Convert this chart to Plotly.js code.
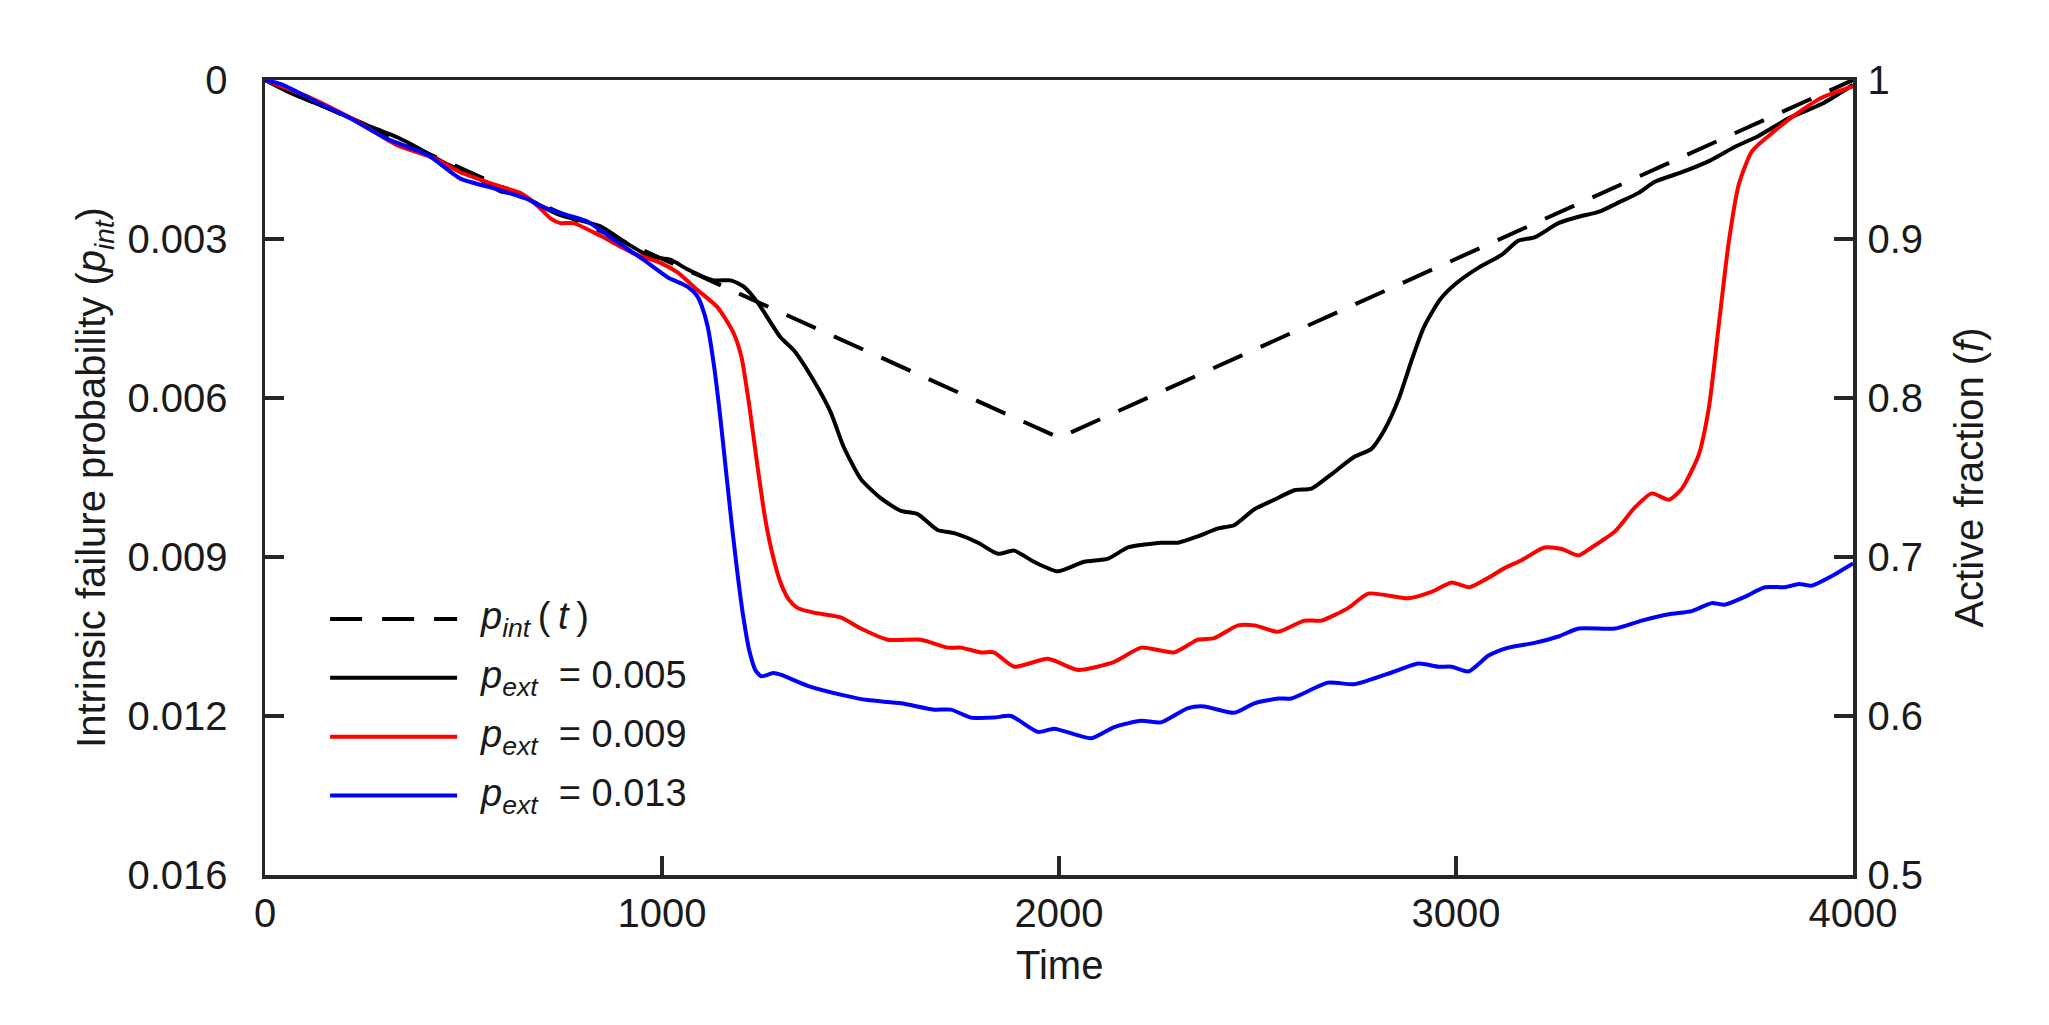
<!DOCTYPE html>
<html>
<head>
<meta charset="utf-8">
<script src="https://cdn.plot.ly/plotly-3.0.1.min.js"></script>
<style>
  html, body { margin: 0; padding: 0; background: #ffffff; }
  #chart { width: 2049px; height: 1025px; }
</style>
</head>
<body>
<div id="chart"></div>
<script>
// ---- Data ----
// Intrinsic failure probability p_int(t) (left axis)
const tInt = [0, 2000, 4000];
const pInt = [0, 0.00675, 0];

// Active fraction f (right axis), p_ext = 0.005
const tBlack = [0, 63, 121, 182, 272, 333, 373, 459, 525, 593, 643, 694, 744, 845, 913, 971, 1021, 1064, 1130, 1173, 1206, 1241, 1299, 1332, 1382, 1425, 1458, 1501, 1551, 1602, 1644, 1694, 1736, 1796, 1846, 1887, 1937, 1997, 2063, 2124, 2174, 2257, 2300, 2350, 2401, 2441, 2492, 2542, 2593, 2636, 2686, 2744, 2787, 2820, 2855, 2890, 2920, 2960, 3000, 3057, 3115, 3157, 3198, 3258, 3309, 3359, 3410, 3460, 3501, 3569, 3637, 3703, 3763, 3839, 3922, 4000];
const fBlack = [1, 0.992, 0.986, 0.980, 0.970, 0.964, 0.959, 0.947, 0.940, 0.930, 0.928, 0.921, 0.915, 0.908, 0.897, 0.889, 0.887, 0.881, 0.874, 0.874, 0.870, 0.860, 0.838, 0.830, 0.811, 0.791, 0.769, 0.749, 0.737, 0.729, 0.727, 0.717, 0.715, 0.709, 0.702, 0.704, 0.697, 0.691, 0.697, 0.699, 0.706, 0.709, 0.709, 0.713, 0.718, 0.720, 0.730, 0.736, 0.742, 0.743, 0.752, 0.763, 0.768, 0.780, 0.799, 0.825, 0.845, 0.862, 0.872, 0.882, 0.890, 0.899, 0.901, 0.910, 0.914, 0.917, 0.923, 0.929, 0.936, 0.942, 0.949, 0.958, 0.965, 0.976, 0.985, 0.997];

// p_ext = 0.009
const tRed = [0, 113, 232, 333, 424, 492, 593, 643, 686, 719, 744, 777, 845, 928, 996, 1039, 1089, 1140, 1180, 1200, 1220, 1240, 1260, 1280, 1300, 1320, 1341, 1382, 1450, 1501, 1568, 1652, 1720, 1753, 1803, 1836, 1887, 1972, 2048, 2139, 2207, 2290, 2350, 2391, 2451, 2492, 2552, 2618, 2661, 2729, 2779, 2880, 2938, 2989, 3034, 3082, 3122, 3165, 3223, 3266, 3309, 3342, 3400, 3450, 3493, 3536, 3569, 3611, 3637, 3662, 3687, 3712, 3745, 3788, 3854, 3922, 4000];
const fRed = [1, 0.989, 0.974, 0.959, 0.951, 0.942, 0.933, 0.929, 0.921, 0.913, 0.910, 0.910, 0.902, 0.891, 0.885, 0.879, 0.868, 0.857, 0.841, 0.826, 0.795, 0.758, 0.724, 0.700, 0.683, 0.673, 0.668, 0.665, 0.662, 0.655, 0.648, 0.648, 0.643, 0.643, 0.640, 0.640, 0.631, 0.636, 0.629, 0.634, 0.643, 0.640, 0.648, 0.649, 0.657, 0.657, 0.653, 0.660, 0.660, 0.668, 0.677, 0.674, 0.678, 0.684, 0.681, 0.687, 0.693, 0.698, 0.706, 0.705, 0.701, 0.706, 0.716, 0.731, 0.740, 0.736, 0.743, 0.764, 0.794, 0.846, 0.898, 0.934, 0.955, 0.965, 0.978, 0.989, 0.996];

// p_ext = 0.013
const tBlue = [0, 45, 131, 214, 308, 409, 492, 575, 661, 701, 761, 812, 888, 953, 1014, 1064, 1089, 1100, 1115, 1130, 1145, 1160, 1175, 1190, 1205, 1220, 1235, 1250, 1280, 1299, 1367, 1458, 1518, 1602, 1685, 1728, 1778, 1836, 1879, 1947, 1988, 2081, 2139, 2207, 2257, 2325, 2366, 2441, 2492, 2552, 2585, 2678, 2744, 2845, 2905, 2956, 2989, 3031, 3082, 3132, 3198, 3258, 3309, 3400, 3468, 3536, 3594, 3644, 3677, 3728, 3778, 3829, 3864, 3896, 3939, 4000];
const fBlue = [1, 0.997, 0.986, 0.976, 0.963, 0.953, 0.938, 0.932, 0.925, 0.920, 0.915, 0.911, 0.898, 0.887, 0.876, 0.870, 0.864, 0.858, 0.845, 0.822, 0.792, 0.757, 0.722, 0.690, 0.662, 0.641, 0.629, 0.625, 0.627, 0.626, 0.619, 0.613, 0.610, 0.608, 0.604, 0.604, 0.599, 0.599, 0.600, 0.590, 0.592, 0.586, 0.593, 0.597, 0.596, 0.605, 0.606, 0.602, 0.608, 0.611, 0.611, 0.621, 0.620, 0.628, 0.633, 0.631, 0.631, 0.628, 0.638, 0.643, 0.646, 0.650, 0.655, 0.655, 0.660, 0.664, 0.666, 0.671, 0.670, 0.675, 0.681, 0.681, 0.683, 0.682, 0.687, 0.696];

// Ticks
const xTickVals = [0, 1000, 2000, 3000, 4000];
const xTickText = ['0', '1000', '2000', '3000', '4000'];
const leftTickVals = [0, 0.003, 0.006, 0.009, 0.012, 0.015];
const leftTickText = ['0', '0.003', '0.006', '0.009', '0.012', '0.016'];
const rightTickVals = [0.5, 0.6, 0.7, 0.8, 0.9, 1];
const rightTickText = ['0.5', '0.6', '0.7', '0.8', '0.9', '1'];

// Legend entries
const legendLabels = [
  '<i>p</i><sub><i>int</i></sub>\u2009(\u2009<i>t</i>\u2009)',
  '<i>p</i><sub><i>ext</i></sub>  = 0.005',
  '<i>p</i><sub><i>ext</i></sub>  = 0.009',
  '<i>p</i><sub><i>ext</i></sub>  = 0.013'
];
const seriesColors = ['#000000', '#000000', '#ff0000', '#0000ff'];
const seriesDash = ['32px,20px', 'solid', 'solid', 'solid'];

// ---- Figure ----
const FONT = 'Liberation Sans, Arial, Helvetica, sans-serif';
const AX = '#262626';
const TXT = '#1a1a1a';
const LW = 4;

const traces = [
  { x: tInt, y: pInt, yaxis: 'y', mode: 'lines', name: 'p_int(t)',
    line: { color: seriesColors[0], width: LW, dash: seriesDash[0] }, hoverinfo: 'skip' },
  { x: tBlack, y: fBlack, yaxis: 'y2', mode: 'lines', name: 'p_ext = 0.005',
    line: { color: seriesColors[1], width: LW, shape: 'spline', smoothing: 0.6 } },
  { x: tRed, y: fRed, yaxis: 'y2', mode: 'lines', name: 'p_ext = 0.009',
    line: { color: seriesColors[2], width: LW, shape: 'spline', smoothing: 0.6 } },
  { x: tBlue, y: fBlue, yaxis: 'y2', mode: 'lines', name: 'p_ext = 0.013',
    line: { color: seriesColors[3], width: LW, shape: 'spline', smoothing: 0.6 } }
];

// custom legend (long sample lines as in the reference)
const legX0 = 0.041, legX1 = 0.121, legTextX = 0.134;
const legRows = [0.322, 0.248, 0.174, 0.100];
const shapes = [];
const annotations = [];
legRows.forEach((yy, i) => {
  shapes.push({ type: 'line', xref: 'paper', yref: 'paper', x0: legX0, x1: legX1, y0: yy, y1: yy,
    line: { color: seriesColors[i], width: LW, dash: seriesDash[i] } });
  annotations.push({ xref: 'paper', yref: 'paper', x: legTextX, y: yy, xanchor: 'left', yanchor: 'middle',
    text: legendLabels[i], showarrow: false, font: { family: FONT, size: 38, color: TXT } });
});
// x-axis title placed as text just below the tick labels
annotations.push({ xref: 'paper', yref: 'paper', x: 0.5, y: -0.113, xanchor: 'center', yanchor: 'middle',
  text: 'Time', showarrow: false, font: { family: FONT, size: 40, color: TXT } });

const layout = {
  width: 2049, height: 1025,
  paper_bgcolor: '#ffffff', plot_bgcolor: '#ffffff',
  margin: { l: 265, r: 196, t: 80, b: 150 },
  showlegend: false,
  font: { family: FONT, size: 40, color: TXT },
  xaxis: {
    range: [0, 4000], tickvals: xTickVals, ticktext: xTickText,
    showline: true, linecolor: AX, linewidth: 3.5, mirror: true,
    ticks: 'inside', ticklen: 19, tickwidth: 3.5, tickcolor: AX,
    showgrid: false, zeroline: false, automargin: false,
    ticklabelstandoff: 0,
    tickfont: { family: FONT, size: 40, color: TXT }
  },
  yaxis: {
    range: [0.015, 0], tickvals: leftTickVals, ticktext: leftTickText,
    showline: true, linecolor: AX, linewidth: 3.5,
    ticks: 'inside', ticklen: 19, tickwidth: 3.5, tickcolor: AX,
    showgrid: false, zeroline: false, automargin: false,
    ticklabelstandoff: 26,
    tickfont: { family: FONT, size: 40, color: TXT },
    title: { text: 'Intrinsic failure probability (<i>p</i><sub><i>int</i></sub>)',
             font: { family: FONT, size: 40, color: TXT }, standoff: 10 }
  },
  yaxis2: {
    range: [0.5, 1], tickvals: rightTickVals, ticktext: rightTickText,
    overlaying: 'y', side: 'right', anchor: 'x',
    showline: true, linecolor: AX, linewidth: 3.5,
    ticks: 'inside', ticklen: 19, tickwidth: 3.5, tickcolor: AX,
    showgrid: false, zeroline: false, automargin: false,
    ticklabelstandoff: 3,
    tickfont: { family: FONT, size: 40, color: TXT },
    title: { text: 'Active fraction (<i>f</i>)',
             font: { family: FONT, size: 40, color: TXT }, standoff: 34 }
  },
  shapes: shapes,
  annotations: annotations
};

Plotly.newPlot('chart', traces, layout, { staticPlot: true, displayModeBar: false });
</script>
</body>
</html>
